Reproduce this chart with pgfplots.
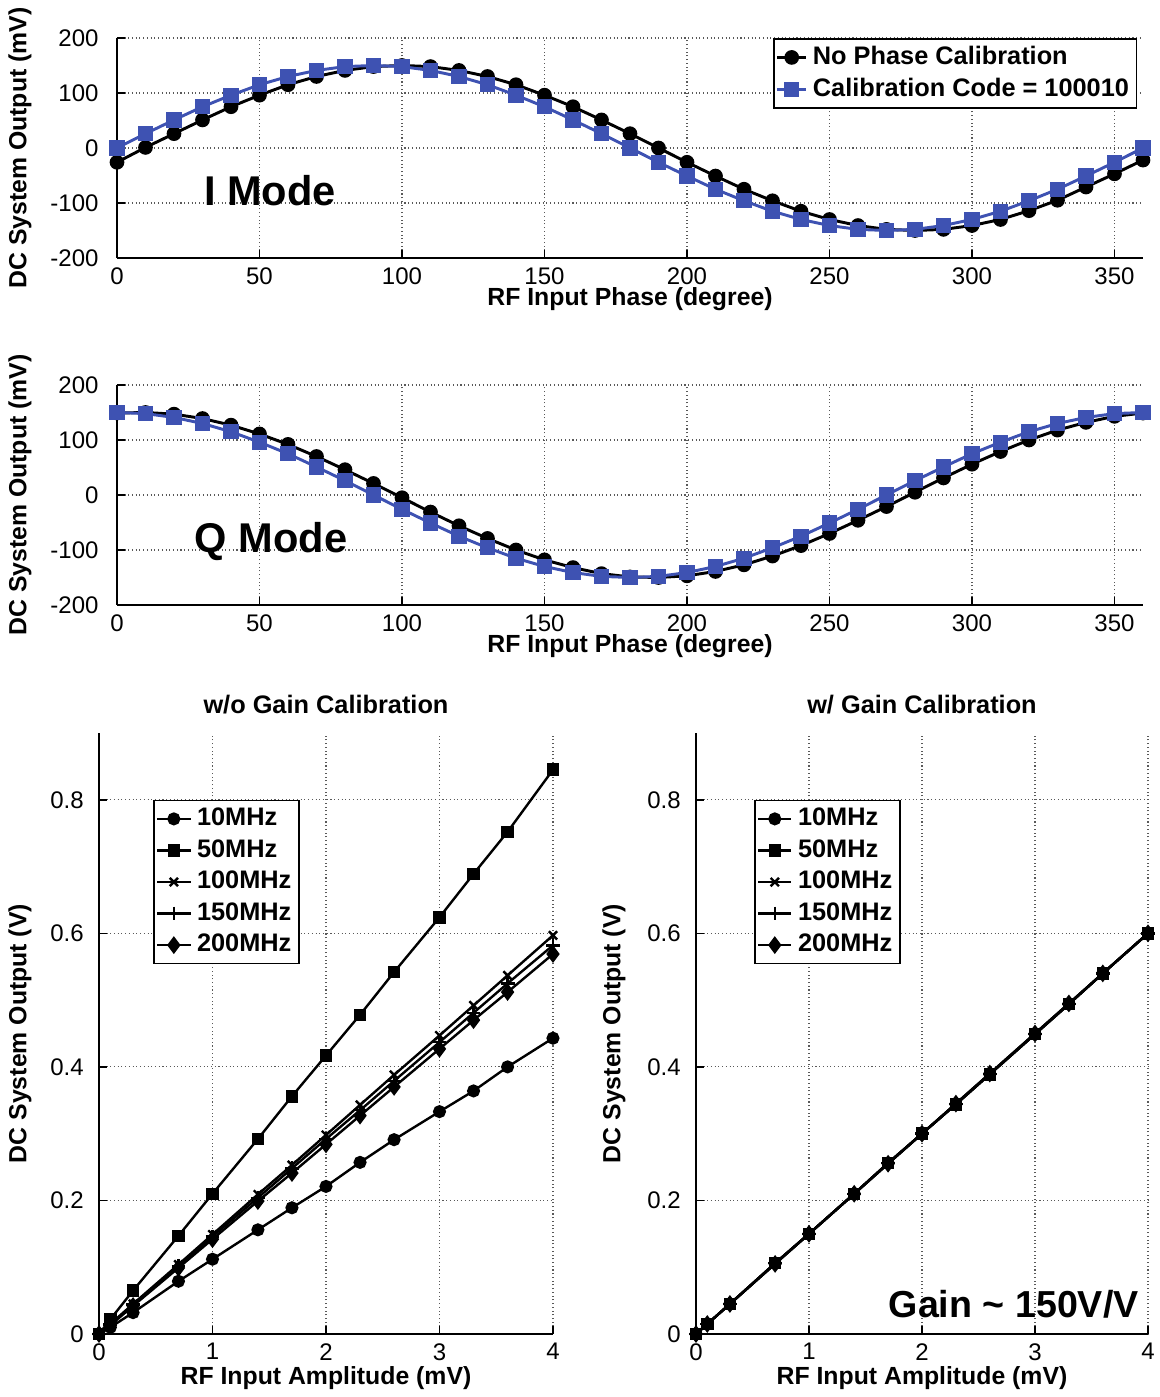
\documentclass[border=0pt]{standalone}
\usepackage{fontspec}
\setmainfont{Liberation Sans}
\usepackage{pgfplots}
\usepackage{pgfplotstable}
\pgfplotsset{compat=1.18}
\definecolor{calblue}{RGB}{62,82,178}

\pgfplotstableread{
x nopc cal
0 -26 0
10 1 26
20 26 51
30 51 75
40 75 96
50 96 115
60 115 130
70 130 141
80 141 148
90 148 150
100 150 148
110 148 141
120 141 130
130 130 115
140 115 96
150 96 75
160 75 51
170 51 26
180 26 0
190 0 -26
200 -26 -51
210 -51 -75
220 -75 -96
230 -96 -115
240 -115 -130
250 -130 -141
260 -141 -148
270 -148 -150
280 -150 -148
290 -148 -141
300 -141 -130
310 -130 -115
320 -114 -96
330 -95 -75
340 -71 -51
350 -47 -26
360 -22 0
}\Imode

\pgfplotstableread{
x nopc cal
0 149 150
10 150 148
20 147 141
30 139 130
40 127 115
50 111 96
60 92 75
70 70 51
80 46 26
90 21 0
100 -5 -26
110 -31 -51
120 -56 -75
130 -79 -96
140 -100 -115
150 -118 -130
160 -132 -141
170 -143 -148
180 -149 -150
190 -150 -148
200 -147 -141
210 -139 -130
220 -127 -115
230 -111 -96
240 -92 -75
250 -70 -51
260 -46 -26
270 -21 0
280 5 26
290 31 51
300 56 75
310 79 96
320 100 115
330 118 130
340 132 141
350 143 148
360 149 150
}\Qmode

\pgfplotstableread{
x f10 f50 f100 f150 f200
0 0 0 0 0 0
0.1 0.010 0.022 0.015 0.014 0.013
0.3 0.032 0.065 0.045 0.044 0.042
0.7 0.079 0.147 0.104 0.102 0.099
1.0 0.112 0.210 0.149 0.146 0.142
1.4 0.156 0.292 0.209 0.204 0.199
1.7 0.189 0.356 0.253 0.248 0.241
2.0 0.221 0.417 0.298 0.292 0.284
2.3 0.257 0.478 0.343 0.335 0.327
2.6 0.291 0.542 0.388 0.379 0.370
3.0 0.333 0.624 0.447 0.437 0.427
3.3 0.364 0.689 0.492 0.481 0.470
3.6 0.400 0.752 0.537 0.525 0.512
4.0 0.443 0.845 0.597 0.582 0.569
}\WoGain

\pgfplotstableread{
x f10 f50 f100 f150 f200
0 0 0 0 0 0
0.1 0.015 0.015 0.015 0.015 0.015
0.3 0.045 0.045 0.045 0.045 0.045
0.7 0.106 0.106 0.105 0.106 0.105
1.0 0.150 0.150 0.150 0.150 0.150
1.4 0.210 0.210 0.210 0.210 0.210
1.7 0.256 0.256 0.255 0.256 0.255
2.0 0.300 0.300 0.300 0.300 0.300
2.3 0.344 0.344 0.345 0.344 0.345
2.6 0.389 0.389 0.390 0.389 0.390
3.0 0.449 0.449 0.450 0.449 0.450
3.3 0.494 0.494 0.495 0.494 0.495
3.6 0.540 0.540 0.540 0.540 0.540
4.0 0.600 0.600 0.600 0.600 0.600
}\WGain

\pgfplotsset{
  myax/.style={
    scale only axis,
    anchor=south west,
    axis x line*=bottom, axis y line*=left,
    axis line style={line width=0.8pt,-},
    tick align=inside, major tick length=3pt,
    tick style={line width=0.6pt, black},
    hide obscured x ticks=false, hide obscured y ticks=false,
    grid=major,
    major grid style={densely dotted, black!65, line width=0.45pt},
    tick label style={font=\fontsize{9}{10}\selectfont},
    label style={font=\fontsize{9.3}{11}\selectfont\bfseries},
    /pgf/number format/assume math mode=true,
    clip=false,
    legend style={draw=black, line width=0.6pt, fill=white,
      font=\fontsize{9.5}{11}\selectfont\bfseries, inner sep=0.8pt,
      row sep=-0.3pt},
    legend cell align=left,
  },
  phase/.style={
    myax,
    width=384.75pt, height=82.5pt,
    xmin=0, xmax=360, ymin=-200, ymax=200,
    xtick={0,50,...,350}, ytick={-200,-100,0,100,200},
    yticklabel style={xshift=-3.4pt},
    xlabel={RF Input Phase (degree)},
    ylabel={DC System Output (mV)},
    x label style={at={(axis description cs:0.5,0)}, anchor=center, yshift=-15.3pt},
    y label style={at={(axis description cs:0,0.5)}, anchor=center, yshift=36.4pt},
    legend image code/.code={\draw[mark repeat=2,mark phase=2] plot coordinates {(0cm,0cm) (0.19cm,0cm) (0.38cm,0cm)};},
  },
  gain/.style={
    myax,
    height=225.375pt,
    xmin=0, xmax=4, ymin=0, ymax=0.9,
    xtick={0,1,2,3,4}, ytick={0,0.2,0.4,0.6,0.8},
    yticklabel style={xshift=-2.2pt},
    xlabel={RF Input Amplitude (mV)},
    ylabel={DC System Output (V)},
    x label style={at={(axis description cs:0.5,0)}, anchor=center, yshift=-16.5pt},
    y label style={at={(axis description cs:0,0.5)}, anchor=center},
    title style={at={(axis description cs:0.5,1)}, anchor=center, yshift=4.6pt,
      font=\fontsize{9.5}{11}\selectfont\bfseries},
    legend image code/.code={\draw[mark repeat=2,mark phase=2] plot coordinates {(0cm,0cm) (0.22cm,0cm) (0.44cm,0cm)};},
  },
  bl/.style={black, line width=0.9pt, mark options={solid, fill=black}},
}

\begin{document}
\begin{tikzpicture}
\useasboundingbox (0,0) rectangle (435pt,523.875pt);

% ---------- I mode ----------
\begin{axis}[phase, at={(43.875pt,427.125pt)},
  legend style={at={(axis cs:358,200)}, anchor=north east}]
\addplot[black, line width=1.1pt, mark=*, mark size=2.2pt] table[x=x,y=nopc] {\Imode};
\addlegendentry{No Phase Calibration}
\addplot[calblue, line width=1.1pt, mark=square*, mark size=2.3pt] table[x=x,y=cal] {\Imode};
\addlegendentry{Calibration Code = 100010}
\node[font=\fontsize{15.6}{18}\selectfont\bfseries] at (axis cs:53.7,-77) {I Mode};
\end{axis}

% ---------- Q mode ----------
\begin{axis}[phase, at={(43.875pt,297pt)}]
\addplot[black, line width=1.1pt, mark=*, mark size=2.2pt] table[x=x,y=nopc] {\Qmode};
\addplot[calblue, line width=1.1pt, mark=square*, mark size=2.3pt] table[x=x,y=cal] {\Qmode};
\node[font=\fontsize{15.6}{18}\selectfont\bfseries] at (axis cs:54,-85) {Q Mode};
\end{axis}

% ---------- w/o gain calibration ----------
\begin{axis}[gain, at={(37.125pt,23.625pt)}, width=170.25pt,
  title={w/o Gain Calibration},
  y label style={yshift=29.6pt},
  legend style={at={(axis cs:0.476,0.8)}, anchor=north west}]
\addplot[bl, mark=*, mark size=2pt] table[x=x,y=f10] {\WoGain};
\addlegendentry{10MHz}
\addplot[bl, mark=square*, mark size=1.9pt] table[x=x,y=f50] {\WoGain};
\addlegendentry{50MHz}
\addplot[bl, mark=x, mark size=2.2pt] table[x=x,y=f100] {\WoGain};
\addlegendentry{100MHz}
\addplot[bl, mark=+, mark size=2.6pt] table[x=x,y=f150] {\WoGain};
\addlegendentry{150MHz}
\addplot[bl, mark=diamond*, mark size=2.6pt] table[x=x,y=f200] {\WoGain};
\addlegendentry{200MHz}
\end{axis}

% ---------- w/ gain calibration ----------
\begin{axis}[gain, at={(261pt,23.625pt)}, width=169.5pt,
  title={w/ Gain Calibration},
  y label style={yshift=30.75pt},
  legend style={at={(axis cs:0.513,0.8)}, anchor=north west}]
\addplot[bl, mark=*, mark size=2pt] table[x=x,y=f10] {\WGain};
\addlegendentry{10MHz}
\addplot[bl, mark=square*, mark size=1.9pt] table[x=x,y=f50] {\WGain};
\addlegendentry{50MHz}
\addplot[bl, mark=x, mark size=2.2pt] table[x=x,y=f100] {\WGain};
\addlegendentry{100MHz}
\addplot[bl, mark=+, mark size=2.6pt] table[x=x,y=f150] {\WGain};
\addlegendentry{150MHz}
\addplot[bl, mark=diamond*, mark size=2.6pt] table[x=x,y=f200] {\WGain};
\addlegendentry{200MHz}
\node[font=\fontsize{14.1}{17}\selectfont\bfseries, anchor=east] at (axis cs:4.0,0.045) {Gain \textasciitilde\ 150V/V};
\end{axis}
\end{tikzpicture}
\end{document}
